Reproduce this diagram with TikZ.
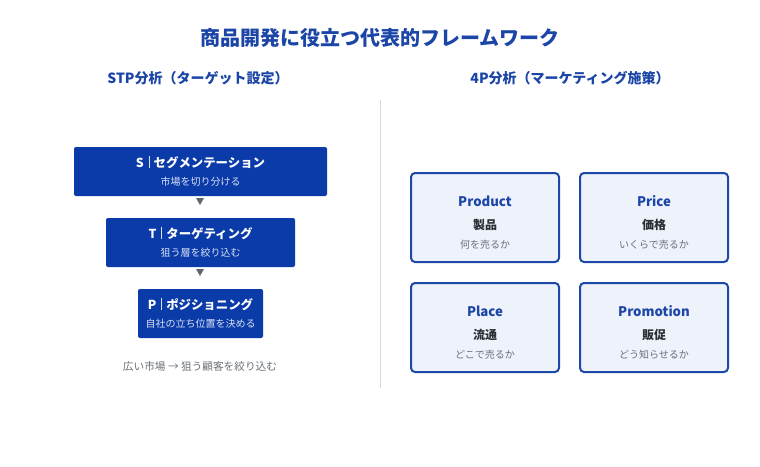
\documentclass[tikz,border=0pt]{standalone}
\usepackage{fontspec}
\setmainfont{Noto Sans CJK JP}
\definecolor{navy}{HTML}{0A3BA8}
\definecolor{tblue}{HTML}{1B45A6}
\definecolor{cardfill}{HTML}{EDF2FB}
\definecolor{cardline}{HTML}{1D48A8}
\definecolor{subwhite}{HTML}{D8E2F7}
\definecolor{grayt}{HTML}{6B7078}
\definecolor{darkt}{HTML}{2A2D33}
\definecolor{arrowg}{HTML}{5F6670}
\definecolor{divline}{HTML}{D5D8DD}
\begin{document}
\begin{tikzpicture}[x=0.75pt,y=-0.75pt,
  stpbox/.style={fill=navy,draw=none,rounded corners=1.5pt},
  card/.style={fill=cardfill,draw=cardline,line width=1.5pt,rounded corners=3pt},
  headtxt/.style={font=\bfseries\fontsize{9.3}{11}\selectfont,text=white,inner sep=0pt},
  subtxt/.style={font=\fontsize{7.5}{9}\selectfont,text=subwhite,inner sep=0pt},
  cardhead/.style={font=\bfseries\fontsize{9.9}{12}\selectfont,text=tblue,inner sep=0pt},
  cardjp/.style={font=\bfseries\fontsize{9}{11}\selectfont,text=darkt,inner sep=0pt},
  cardsub/.style={font=\fontsize{7.5}{9}\selectfont,text=grayt,inner sep=0pt},
  tri/.style={fill=arrowg,draw=none}
]
\useasboundingbox (0,0) rectangle (760,467);
\fill[white] (0,0) rectangle (760,467);
\newcommand{\sepbar}{\hspace{3.5pt}\textcolor{subwhite}{\rule[-0.5pt]{0.4pt}{9pt}}\hspace{3.5pt}}
% title
\node[font=\bfseries\fontsize{15}{18}\selectfont,text=tblue,inner sep=0pt] (title) at (380,38) {商品開発に役立つ代表的フレームワーク};
\node[font=\bfseries\fontsize{10.5}{12}\selectfont,text=tblue,inner sep=0pt] (stphead) at (198,78) {STP分析（ターゲット設定）};
\node[font=\bfseries\fontsize{10.5}{12}\selectfont,text=tblue,inner sep=0pt] (fphead) at (570,78) {4P分析（マーケティング施策）};
% divider
\coordinate (d1) at (380,100);
\coordinate (d2) at (380,388);
\draw[divline,line width=0.75pt] (d1) -- (d2);
% STP boxes
\fill[stpbox] (74,147) rectangle (327,196);
\node[headtxt] (sh) at (200.5,162) {S\sepbar セグメンテーション};
\node[subtxt] (ss) at (200.5,182) {市場を切り分ける};
\fill[tri] (196,198) -- (204,198) -- (200,205) -- cycle;
\fill[stpbox] (106,218) rectangle (295,267);
\node[headtxt] (th) at (200.5,233) {T\sepbar ターゲティング};
\node[subtxt] (ts) at (200.5,253) {狙う層を絞り込む};
\fill[tri] (196,269) -- (204,269) -- (200,276) -- cycle;
\fill[stpbox] (138,289) rectangle (263,338);
\node[headtxt] (ph) at (200.5,304) {P\sepbar ポジショニング};
\node[subtxt] (ps) at (200.5,324) {自社の立ち位置を決める};
\node[font=\fontsize{8}{10}\selectfont,text=grayt,inner sep=0pt] (note) at (200,366) {広い市場 → 狙う顧客を絞り込む};
% 4P cards
\draw[card] (411,173) rectangle (559,262);
\node[cardhead] (c1a) at (485,201) {Product};
\node[cardjp] (c1b) at (485,225) {製品};
\node[cardsub] (c1c) at (485,245) {何を売るか};
\draw[card] (580,173) rectangle (728,262);
\node[cardhead] (c2a) at (654,201) {Price};
\node[cardjp] (c2b) at (654,225) {価格};
\node[cardsub] (c2c) at (654,245) {いくらで売るか};
\draw[card] (411,283) rectangle (559,372);
\node[cardhead] (c3a) at (485,311) {Place};
\node[cardjp] (c3b) at (485,335) {流通};
\node[cardsub] (c3c) at (485,355) {どこで売るか};
\draw[card] (580,283) rectangle (728,372);
\node[cardhead] (c4a) at (654,311) {Promotion};
\node[cardjp] (c4b) at (654,335) {販促};
\node[cardsub] (c4c) at (654,355) {どう知らせるか};
\end{tikzpicture}
\end{document}
